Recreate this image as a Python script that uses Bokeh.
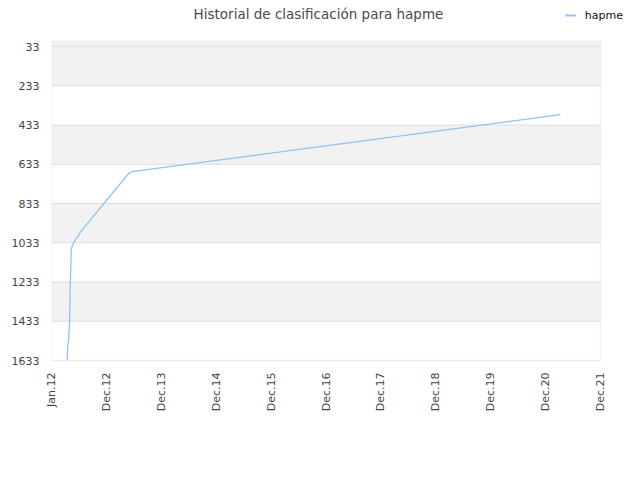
import math
import pandas as pd
from bokeh.plotting import figure
from bokeh.layouts import column
from bokeh.models import (Range1d, FixedTicker, BoxAnnotation, Legend, LegendItem)
from bokeh.core.properties import value
from bokeh.embed import file_html
from bokeh.resources import INLINE

# ---- data ----
dates = ["2012-03-14", "2012-03-18", "2012-03-23", "2012-03-30", "2012-04-04",
         "2012-04-11", "2012-04-28", "2012-06-18", "2012-07-26", "2013-04-28",
         "2013-05-20", "2021-03-09"]
ranks = [1633, 1565, 1531, 1438, 1241, 1062, 1030, 971, 935, 680, 670, 380]

y_ticks = [33, 233, 433, 633, 833, 1033, 1233, 1433, 1633]
x_tick_dates = ["2011-12-01", "2012-12-01", "2013-12-01", "2014-12-01", "2015-12-01",
                "2016-12-01", "2017-12-01", "2018-12-01", "2019-12-01", "2020-12-01",
                "2021-12-01"]
x_tick_labels = ["Jan.12", "Dec.12", "Dec.13", "Dec.14", "Dec.15", "Dec.16",
                 "Dec.17", "Dec.18", "Dec.19", "Dec.20", "Dec.21"]
series_name = "hapme"
title_text = "Historial de clasificación para hapme"
line_color = "#90c3f3"

def to_ms(d):
    return int(pd.Timestamp(d).value // 10**6)

xs = [to_ms(d) for d in dates]
xt = [to_ms(d) for d in x_tick_dates]

W = 624
TOP_H = 30
LEFT = 51          # frame left edge (px)
PLOT_W = 549       # width of the drawn plot area (px)
FRAME_W = W - LEFT # frame extends to the right edge so the legend fits
Y_TOP = 2

x_end = xt[-1] + (xt[-1] - xt[0]) * (FRAME_W - PLOT_W) / PLOT_W

# ---- header strip: title + legend (frame is aligned with the main frame) ----
top = figure(width=W, height=TOP_H, output_backend="svg", toolbar_location=None,
             x_range=Range1d(LEFT, W), y_range=Range1d(0, TOP_H),
             min_border_left=LEFT, min_border_right=0, min_border_top=0,
             min_border_bottom=0, x_axis_location=None, y_axis_location=None)
top.outline_line_color = None
top.grid.visible = False
top.text(x=[318], y=[TOP_H - 13], text=[title_text], text_align="center",
         text_baseline="middle", text_font=value("DejaVu Sans"),
         text_font_size="13.5px", text_color="#4a4a4a")
dummy = top.line(x=[0, 0], y=[-10, -10], line_color=line_color, line_width=2)
legend = Legend(items=[LegendItem(label=series_name, renderers=[dummy])],
                location="top_right", padding=0, margin=1, spacing=0,
                border_line_color=None, background_fill_alpha=0,
                glyph_width=11, glyph_height=28, label_height=28,
                label_standoff=9, label_text_font="DejaVu Sans",
                label_text_font_size="11px", label_text_color="#111111",
                label_text_baseline="middle")
top.add_layout(legend)

# ---- main chart ----
p = figure(width=W, height=434, output_backend="svg", toolbar_location=None,
           x_range=Range1d(xt[0], x_end), y_range=Range1d(1633, Y_TOP),
           min_border_left=LEFT, min_border_right=0, min_border_top=10,
           min_border_bottom=104)
p.background_fill_color = "white"
p.border_fill_color = "white"
p.outline_line_color = None
p.grid.visible = False

band_edges = [Y_TOP] + y_ticks[1:]
for i in range(0, len(band_edges) - 1, 2):
    p.add_layout(BoxAnnotation(left=xt[0], right=xt[-1],
                               bottom=band_edges[i], top=band_edges[i + 1],
                               fill_color="#f2f2f2", fill_alpha=1.0,
                               line_color=None, level="underlay"))

# horizontal grid lines, limited to the plot area
p.segment(x0=[xt[0]] * len(y_ticks), x1=[xt[-1]] * len(y_ticks),
          y0=y_ticks, y1=y_ticks, line_color="#dedede", line_width=1)

# plot-area border
p.add_layout(BoxAnnotation(left=xt[0], right=xt[-1], bottom=1633, top=Y_TOP,
                           fill_alpha=0, line_color="#dcdcdc", line_width=2))

p.line(xs, ranks, line_color=line_color, line_width=1.3)

p.yaxis.ticker = FixedTicker(ticks=y_ticks)
p.xaxis.ticker = FixedTicker(ticks=xt)
p.xaxis.major_label_overrides = {t: l for t, l in zip(xt, x_tick_labels)}
p.xaxis.major_label_orientation = math.pi / 2
for ax in (p.xaxis[0], p.yaxis[0]):
    ax.axis_line_color = None
    ax.major_tick_line_color = None
    ax.minor_tick_line_color = None
    ax.major_tick_out = 0
    ax.major_label_standoff = 12
    ax.major_label_text_font = "DejaVu Sans"
    ax.major_label_text_font_size = "11px"
    ax.major_label_text_color = "#444444"

layout = column(top, p, spacing=0)
open("out.html", "w").write(file_html(layout, INLINE))
